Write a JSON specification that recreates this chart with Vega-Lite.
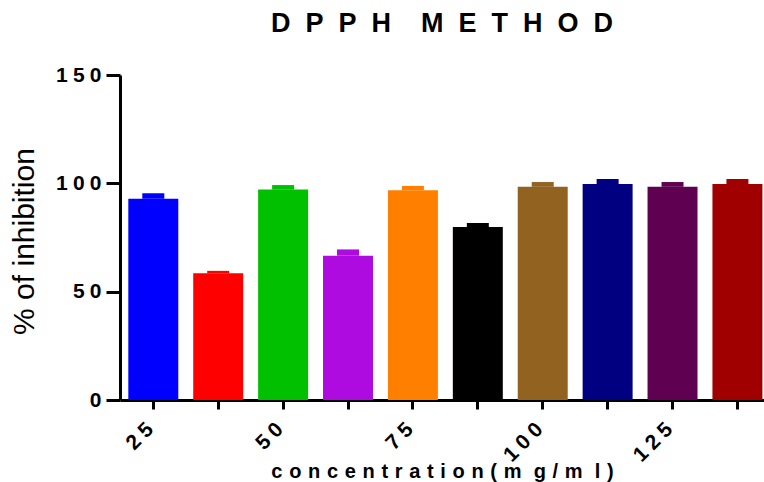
{
  "$schema": "https://vega.github.io/schema/vega-lite/v6.json",
  "autosize": "none",
  "width": 644,
  "height": 325,
  "padding": {"left": 120, "top": 75, "right": 0, "bottom": 82},
  "background": "white",
  "config": {"view": {"stroke": null}, "font": "Liberation Sans"},
  "title": {
    "text": "D\u2007P\u2007P\u2007H\u2007\u2007M\u2007E\u2007T\u2007H\u2007O\u2007D",
    "fontSize": 27,
    "fontWeight": "bold",
    "font": "Liberation Sans",
    "color": "black",
    "anchor": "middle",
    "offset": 26
  },
  "data": {
    "values": [
      {"conc": "25-A", "mean": 92.9, "upper": 95.4},
      {"conc": "25-B", "mean": 58.5, "upper": 59.6},
      {"conc": "50-A", "mean": 97.1, "upper": 99.2},
      {"conc": "50-B", "mean": 66.6, "upper": 69.5},
      {"conc": "75-A", "mean": 96.8, "upper": 98.8},
      {"conc": "75-B", "mean": 79.8, "upper": 81.7},
      {"conc": "100-A", "mean": 98.4, "upper": 100.6},
      {"conc": "100-B", "mean": 99.7, "upper": 102.0},
      {"conc": "125-A", "mean": 98.4, "upper": 100.6},
      {"conc": "125-B", "mean": 99.7, "upper": 102.0}
    ]
  },
  "encoding": {
    "x": {
      "field": "conc",
      "type": "nominal",
      "sort": null,
      "scale": {"paddingInner": 0.23, "paddingOuter": 0.0763, "align": 0.84},
      "axis": {
        "title": "c\u2004o\u2004n\u2004c\u2004e\u2004n\u2004t\u2004r\u2004a\u2004t\u2004i\u2004o\u2004n\u2004(\u2004m\u2004 g\u2004/\u2004m\u2004 l\u2004)",
        "titleFontSize": 20,
        "titleFontWeight": "bold",
        "titleColor": "black",
        "titleY": 77,
        "titleBaseline": "alphabetic",
        "labelAngle": -45,
        "labelAlign": "right",
        "labelBaseline": "middle",
        "labelFontSize": 21,
        "labelFontWeight": "bold",
        "labelColor": "black",
        "labelPadding": 17,
        "labelOffset": -3,
        "labelExpr": "indexof(datum.value, 'B') >= 0 ? '' : join(split(split(datum.value, '-')[0], ''), '\u2005')",
        "domainColor": "black",
        "domainWidth": 3,
        "tickColor": "black",
        "tickWidth": 3,
        "tickSize": 9,
        "grid": false
      }
    },
    "color": {
      "field": "conc",
      "type": "nominal",
      "sort": null,
      "legend": null,
      "scale": {
        "domain": ["25-A", "25-B", "50-A", "50-B", "75-A", "75-B", "100-A", "100-B", "125-A", "125-B"],
        "range": ["#0000FF", "#FF0000", "#00C000", "#AE0BE0", "#FF8000", "#000000", "#926220", "#000080", "#600050", "#A00000"]
      }
    }
  },
  "layer": [
    {
      "mark": {"type": "bar"},
      "encoding": {
        "y": {
          "field": "mean",
          "type": "quantitative",
          "scale": {"domain": [0, 150], "nice": false},
          "axis": {
            "values": [0, 50, 100, 150],
            "title": "% of inhibition",
            "titleFontSize": 30,
            "titleFontWeight": "normal",
            "titleColor": "black",
            "titleX": -87,
            "titleY": 166,
            "titleAlign": "center",
            "titleBaseline": "alphabetic",
            "labelFontSize": 21,
            "labelFontWeight": "bold",
            "labelColor": "black",
            "labelPadding": 5,
            "labelExpr": "join(split(datum.label, ''), '\u2005')",
            "domainColor": "black",
            "domainWidth": 3,
            "tickColor": "black",
            "tickWidth": 3,
            "tickSize": 14,
            "grid": false
          }
        }
      }
    },
    {
      "mark": {"type": "bar", "width": 22},
      "encoding": {
        "y": {"field": "mean", "type": "quantitative"},
        "y2": {"field": "upper"}
      }
    }
  ]
}
